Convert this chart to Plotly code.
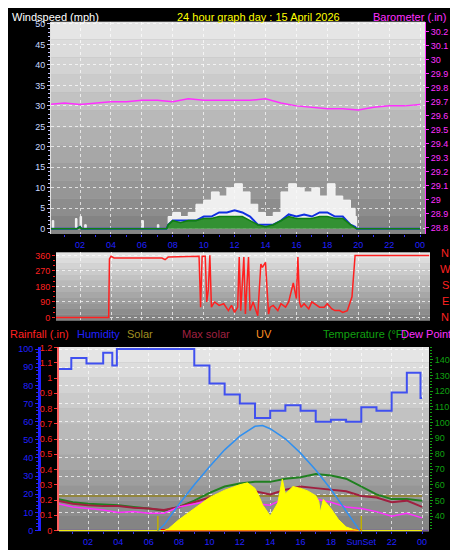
import plotly.graph_objects as go

# ---- data (hours of day) ----
baro_t = list(range(25))
baro = [29.68, 29.69, 29.68, 29.69, 29.70, 29.70, 29.71, 29.71, 29.70, 29.72, 29.71, 29.71,
        29.71, 29.71, 29.72, 29.69, 29.67, 29.66, 29.65, 29.65, 29.64, 29.66, 29.67, 29.67, 29.68]

wind_t = [0, 0.2, 0.3, 1.7, 1.8, 2.0, 2.1, 2.3, 2.4, 6.0, 6.1, 7.0, 7.1, 7.6,
          7.7, 8, 8.5, 9, 9.5, 10, 10.5, 11, 11.5, 12, 12.5, 13, 13.5, 14, 14.5, 15,
          15.5, 16, 16.5, 17, 17.5, 18, 18.5, 19, 19.5, 19.8, 19.9, 24]
gust = [0, 2, 0, 2.5, 0, 3, 0, 1, 0, 2, 0, 1, 0, 0,
        3, 4, 3, 4, 6, 7, 9, 8, 10, 11, 9, 6, 4, 3, 4, 9,
        11, 10, 9, 10, 8, 11, 8, 7, 5, 3, 0, 0]
wind_avg = [0, 0, 0, 0, 0, 0.5, 0, 0, 0, 0, 0, 0, 0, 0,
            1, 2, 2, 2, 2, 3, 3, 4, 4, 4.5, 4, 3, 1, 1, 1, 2,
            3.5, 3, 3.5, 3, 4, 4, 3, 3, 1, 0.5, 0, 0]
wind_low = [0, 0, 0, 0, 0, 0.5, 0, 0, 0, 0, 0, 0, 0, 0,
            1, 2, 1.5, 2, 2, 2.5, 2.5, 3, 3, 3, 3, 2, 1, 0.5, 1, 2,
            3, 2.5, 2.5, 2.5, 3, 3, 2.5, 2.5, 1, 0.3, 0, 0]

dir_t = [0, 3.85, 3.9, 4.0, 4.2, 7.3, 7.5, 7.7, 9.7, 9.8, 9.9, 10.0, 10.1, 10.2, 10.3,
         10.4, 10.45, 10.5, 10.7, 11.0, 11.3, 11.6, 11.8, 12.0, 12.2, 12.3, 12.4, 12.6, 12.7,
         12.9, 13.0, 13.2, 13.5, 13.7, 13.8, 14.0, 14.2, 14.3, 14.5, 14.8, 15.0, 15.3, 15.5,
         15.8, 16.0, 16.1, 16.2, 16.3, 16.5, 16.8, 17.0, 17.3, 17.5, 17.8, 18.0, 18.3, 18.5,
         18.8, 19.0, 19.3, 19.5, 19.6, 19.8, 24.6]
dir_v = [0, 0, 340, 355, 345, 345, 335, 350, 355, 60, 355, 355, 355, 90, 160,
         360, 200, 60, 90, 70, 80, 40, 70, 30, 60, 350, 40, 350, 20,
         350, 40, 90, 10, 310, 290, 320, 20, 60, 70, 40, 80, 60, 90,
         200, 110, 350, 90, 60, 80, 50, 90, 70, 60, 60, 80, 50, 40,
         40, 30, 40, 100, 120, 360, 360]

hum_t = [0, 0.9, 1.9, 3.0, 3.6, 3.9, 9.0, 10.0, 11.0, 12.0, 13.0, 14.0, 15.0, 16.0,
         17.0, 18.0, 19.0, 20.0, 21.0, 22.0, 23.0, 23.9, 24.0]
hum = [89, 95, 92, 98, 91, 100, 91, 81, 75, 70, 62, 66, 69, 66,
       60, 61, 60, 68, 66, 76, 87, 73, 73]

t_hours = list(range(25))
temp = [51, 49, 48, 47.5, 47, 46, 45, 43.5, 46, 50, 55, 59, 61, 62, 62, 64, 65, 67, 66, 64,
        59, 54, 51, 51, 50]
feels = [50, 48, 47, 46.5, 46.5, 45.5, 45, 44, 46, 49, 52, 54, 56, 56, 54, 57, 59, 58, 57, 56,
         53, 52, 49, 50, 46]
dew = [48, 46, 45, 44, 42.5, 43, 42, 42, 46, 48, 50, 51, 51, 48, 47, 52, 53, 51, 49, 46,
       45, 43, 40, 42, 39]
uv_level = [53] * 25

maxsol_t = [6.6, 7, 8, 9, 10, 11, 12, 13, 13.5, 14, 15, 16, 17, 18, 19, 19.9]
maxsol = [0, 30, 144, 250, 348, 440, 515, 568, 572, 555, 500, 422, 330, 225, 107, 0]

sol_t = [0, 7.0, 7.3, 8, 8.5, 9, 9.5, 10, 10.5, 11, 11.5, 12, 12.5, 13, 13.3, 13.5, 14, 14.5,
         14.8, 15, 15.5, 16, 16.5, 17, 17.2, 17.3, 17.5, 18, 18.5, 19, 19.5, 20, 24]
solar = [0, 0, 10, 60, 90, 120, 150, 180, 200, 220, 235, 250, 260, 230, 180, 140, 80, 150,
         280, 200, 240, 230, 215, 190, 160, 100, 170, 120, 60, 20, 5, 0, 0]

rain_t = [6.8, 20.0]
rain = [0, 0]

hour_vals = list(range(2, 25, 2))
hour_text = ["02", "04", "06", "08", "10", "12", "14", "16", "18", "20", "22", "00"]
hour_text_bottom = ["02", "04", "06", "08", "10", "12", "14", "16", "18", "SunSet", "22", "00"]

W, H = 458, 550
def px(x):
    return x / W
def py(y):
    return 1 - y / H

fig = go.Figure()

# top panel
fig.add_trace(go.Scatter(x=wind_t, y=gust, mode="lines", line=dict(color="#f4f4f4", width=1, shape="hv"),
                         fill="tozeroy", fillcolor="rgba(250,250,250,0.9)", xaxis="x", yaxis="y"))
fig.add_trace(go.Scatter(x=wind_t, y=wind_avg, mode="lines", line=dict(color="#1030e0", width=2),
                         xaxis="x", yaxis="y"))
fig.add_trace(go.Scatter(x=wind_t, y=wind_low, mode="lines", line=dict(color="#108010", width=1.5),
                         fill="tozeroy", fillcolor="rgba(16,128,16,0.85)", xaxis="x", yaxis="y"))
fig.add_trace(go.Scatter(x=baro_t, y=baro, mode="lines", line=dict(color="#ff30ff", width=1.5),
                         xaxis="x", yaxis="y2"))

# middle panel
fig.add_trace(go.Scatter(x=dir_t, y=dir_v, mode="lines", line=dict(color="#ff2020", width=1.5),
                         xaxis="x2", yaxis="y3"))

# bottom panel
fig.add_trace(go.Scatter(x=sol_t, y=solar, mode="lines", line=dict(color="#ffff00", width=1),
                         fill="tozeroy", fillcolor="#ffff00", xaxis="x3", yaxis="y7"))
fig.add_trace(go.Scatter(x=maxsol_t, y=maxsol, mode="lines", line=dict(color="#3090f0", width=1.5),
                         xaxis="x3", yaxis="y7"))
fig.add_trace(go.Scatter(x=t_hours, y=uv_level, mode="lines", line=dict(color="#908020", width=1.5),
                         xaxis="x3", yaxis="y6"))
fig.add_trace(go.Scatter(x=t_hours, y=temp, mode="lines", line=dict(color="#208020", width=2),
                         xaxis="x3", yaxis="y6"))
fig.add_trace(go.Scatter(x=t_hours, y=feels, mode="lines", line=dict(color="#a02040", width=2),
                         xaxis="x3", yaxis="y6"))
fig.add_trace(go.Scatter(x=t_hours, y=dew, mode="lines", line=dict(color="#ff30ff", width=1.5),
                         xaxis="x3", yaxis="y6"))
fig.add_trace(go.Scatter(x=hum_t, y=hum, mode="lines", line=dict(color="#4050f0", width=2, shape="hv"),
                         xaxis="x3", yaxis="y4"))
fig.add_trace(go.Scatter(x=[0, 24.4], y=[0, 0], mode="lines", line=dict(color="#7050a0", width=1.5),
                         xaxis="x3", yaxis="y5"))
fig.add_trace(go.Scatter(x=rain_t, y=rain, mode="lines", line=dict(color="#ff0000", width=3),
                         xaxis="x3", yaxis="y5"))

grid = dict(showgrid=True, gridcolor="rgba(255,255,255,0.7)", griddash="dot", gridwidth=1, zeroline=False)
tickf = dict(family="Arial", size=9)
xcommon = dict(tickvals=hour_vals, ticks="outside", ticklen=2, tickcolor="#3030ff",
               minor=dict(dtick=1, ticks="outside", ticklen=2, tickcolor="#3030ff"),
               tickfont=dict(tickf, color="#2020ff"), **grid)

fig.update_layout(
    width=W, height=H, margin=dict(l=0, r=0, t=0, b=0),
    paper_bgcolor="black", plot_bgcolor="#a8a8a8", showlegend=False,
    xaxis=dict(domain=[px(43), px(417)], range=[0.12, 24.32], anchor="y", ticktext=hour_text, **xcommon),
    yaxis=dict(domain=[py(225), py(10)], range=[-1.2, 50.5], dtick=5, ticks="outside", ticklen=3,
               tickcolor="#c0c0ff", tickfont=dict(tickf, color="#c8d8ff"), showline=True,
               linecolor="#e0e0e0", minor=dict(dtick=1, ticks="outside", ticklen=2, tickcolor="#c0c0ff"), **grid),
    yaxis2=dict(overlaying="y", side="right", range=[28.757, 30.27], dtick=0.1, ticks="outside", ticklen=3,
                tickcolor="#ff30ff", tickfont=dict(tickf, color="#ff30ff"), showgrid=False, zeroline=False,
                showline=True, linecolor="#ff30ff", anchor="x", tickvals=[28.8 + 0.1 * i for i in range(15)],
                ticktext=["28.8", "28.9", "29", "29.1", "29.2", "29.3", "29.4", "29.5", "29.6", "29.7",
                          "29.8", "29.9", "30", "30.1", "30.2"]),
    xaxis2=dict(domain=[px(48), px(422)], range=[0.44, 24.65], anchor="y3", showticklabels=False,
                tickvals=hour_vals, **grid),
    yaxis3=dict(domain=[py(313), py(244)], range=[-17, 377], tickvals=[0, 90, 180, 270, 360], ticks="outside",
                ticklen=3, tickcolor="#ff2020", tickfont=dict(tickf, color="#ff2020"), anchor="x2",
                minor=dict(dtick=30, ticks="outside", ticklen=2, tickcolor="#ff2020"), **grid),
    xaxis3=dict(domain=[px(51), px(421)], range=[0.09, 24.46], anchor="y4", ticktext=hour_text_bottom, **xcommon),
    yaxis4=dict(domain=[py(527), py(340)], range=[-0.4, 101.1], dtick=10, ticks="outside", ticklen=3,
                tickcolor="#2020ff", tickfont=dict(tickf, color="#2020ff"), anchor="free", position=px(31),
                showline=True, linecolor="#2020ff", linewidth=3,
                minor=dict(dtick=2, ticks="outside", ticklen=2, tickcolor="#2020ff"), **grid),
    yaxis5=dict(overlaying="y4", range=[-0.005, 1.203], dtick=0.1, ticks="outside", ticklen=3,
                tickcolor="#ff3030", tickfont=dict(tickf, color="#ff2020"), anchor="x3", side="left",
                showline=True, linecolor="#ff6060", linewidth=2, showgrid=False, zeroline=False,
                tickvals=[0.1 * i for i in range(13)],
                ticktext=["0", "0.1", "0.2", "0.3", "0.4", "0.5", "0.6", "0.7", "0.8", "0.9", "1", "1.1", "1.2"]),
    yaxis6=dict(overlaying="y4", side="right", range=[30.4, 148.1], dtick=10, ticks="outside", ticklen=3,
                tickcolor="#10a010", tickfont=dict(tickf, color="#10a010"), anchor="x3",
                showgrid=False, zeroline=False, tickvals=list(range(40, 150, 10)),
                minor=dict(dtick=2, ticks="outside", ticklen=2, tickcolor="#10a010")),
    yaxis7=dict(overlaying="y4", range=[-4, 1000], visible=False),
)

# gradient backgrounds
shapes = []
for xr, yr in [("x", "y"), ("x2", "y3"), ("x3", "y4")]:
    n = 12
    for i in range(n):
        g = int(0x80 + (0xea - 0x80) * (i + 0.5) / n)
        shapes.append(dict(type="rect", xref=xr + " domain", yref=yr + " domain", x0=0, x1=1,
                           y0=i / n, y1=(i + 1) / n, fillcolor=f"rgb({g},{g},{g})", line_width=0, layer="below"))
# sunrise / sunset markers
for h in [6.6, 20.0]:
    shapes.append(dict(type="line", xref="x3", yref="y4", x0=h, x1=h, y0=-0.4, y1=8,
                       line=dict(color="#c0b000", width=1.5)))
fig.update_layout(shapes=shapes)

def label(x, y, text, color, size=11, anchor="left"):
    fig.add_annotation(x=px(x), y=py(y), xref="paper", yref="paper", text=text, showarrow=False,
                       xanchor=anchor, yanchor="middle", font=dict(family="Arial", size=size, color=color))

label(2, 5, "Windspeed (mph)", "white")
label(250, 5, "24 hour graph day : 15 April 2026", "#ffff00", anchor="center")
label(440, 5, "Barometer (.in)", "#ff30ff", anchor="right")
for i, d in enumerate(["N", "W", "S", "E", "N"]):
    label(437, 245 + i * 16, d, "#ff2020", size=11, anchor="center")
label(0, 327, "Rainfall (.in)", "#ff2020")
label(67, 327, "Humidity", "#2020ff")
label(117, 327, "Solar", "#a09020")
label(172, 327, "Max solar", "#a02040")
label(246, 327, "UV", "#ff9020")
label(313, 327, "Temperature (°F)", "#10a010")
label(391, 327, "Dew Point (°F", "#ff30ff")

fig.write_html("out.html")
